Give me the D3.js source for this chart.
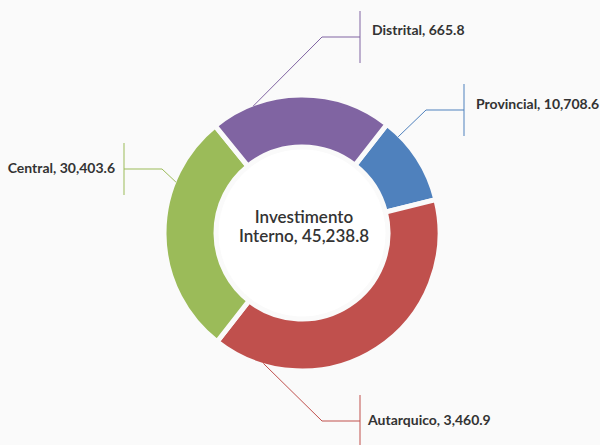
<!DOCTYPE html>
<html>
<head>
<meta charset="utf-8">
<script src="https://cdn.jsdelivr.net/npm/d3@7"></script>
<style>
  body { margin: 0; background: #fafafa; }
  svg { display: block; font-family: Lato, "Open Sans", sans-serif; }
</style>
</head>
<body>
<svg width="600" height="445"></svg>
<script>
// slices in drawing order, clockwise from the blue one
const categories = ['Provincial', 'Autarquico', 'Central', 'Distrital'];
const labelValues = [10708.6, 3460.9, 30403.6, 665.8];
// arc shares (degrees of the ring)
const arcShares = [38, 142, 103, 77];
const colors = ['#4f81bd', '#c0504d', '#9bbb59', '#8064a2'];
const centerTitle = ['Investimento', 'Interno, 45,238.8'];

const svg = d3.select('svg'),
  cx = 302,
  cy = 233,
  outer = 138,
  inner = 86;

const fmt = d3.format(',.1f');
const deg = Math.PI / 180;

const pie = d3.pie().sort(null).value((d) => d.share)
  .startAngle(38 * deg).endAngle(398 * deg);

const arc = d3.arc().innerRadius(inner).outerRadius(outer);

const data = categories.map((c, i) => ({
  name: c,
  value: labelValues[i],
  share: arcShares[i],
  color: colors[i]
}));

const g = svg.append('g').attr('transform', `translate(${cx},${cy})`);

g.append('circle').attr('r', inner).attr('fill', '#fff');

g.selectAll('path.slice')
  .data(pie(data))
  .enter()
  .append('path')
  .attr('class', 'slice')
  .attr('d', arc)
  .attr('fill', (d) => d.data.color)
  .attr('stroke', '#fafafa')
  .attr('stroke-width', 5);

// leader lines: start angle on the ring, elbow, label bar and text offsets
const labelLayout = {
  Provincial: { a: 45, elbow: [426, 110], bar: 464, dx: 12, dy: -6 },
  Autarquico: { a: 196.5, elbow: [322, 421], bar: 360, dx: 8, dy: -1 },
  Central: { a: 292, elbow: [162, 169], bar: 124, dx: -9, dy: -1 },
  Distrital: { a: 339, elbow: [322, 37], bar: 360, dx: 12, dy: -7 }
};

const labels = svg.append('g');

data.forEach((d) => {
  const L = labelLayout[d.name];
  const r = outer - 2;
  const sx = cx + r * Math.sin(L.a * deg),
    sy = cy - r * Math.cos(L.a * deg);
  const [ex, ey] = L.elbow;

  labels.append('polyline')
    .attr('points', `${sx},${sy} ${ex},${ey} ${L.bar},${ey}`)
    .attr('fill', 'none')
    .attr('stroke', d.color)
    .attr('stroke-width', 1);

  labels.append('line')
    .attr('x1', L.bar).attr('x2', L.bar)
    .attr('y1', ey - 26).attr('y2', ey + 26)
    .attr('stroke', d.color)
    .attr('stroke-width', 1);

  labels.append('text')
    .attr('x', L.bar + L.dx)
    .attr('y', ey + L.dy)
    .attr('dy', '0.35em')
    .attr('text-anchor', L.dx > 0 ? 'start' : 'end')
    .attr('font-size', '14px')
    .attr('font-weight', 'bold')
    .attr('fill', '#333')
    .text(`${d.name}, ${fmt(d.value)}`);
});

g.selectAll('text.center')
  .data(centerTitle)
  .enter()
  .append('text')
  .attr('class', 'center')
  .attr('x', 2)
  .attr('y', (d, i) => -16 + i * 19)
  .attr('dy', '0.35em')
  .attr('text-anchor', 'middle')
  .attr('font-size', '17px')
  .attr('font-weight', 600)
  .attr('fill', '#333')
  .text((d) => d);
</script>
</body>
</html>
